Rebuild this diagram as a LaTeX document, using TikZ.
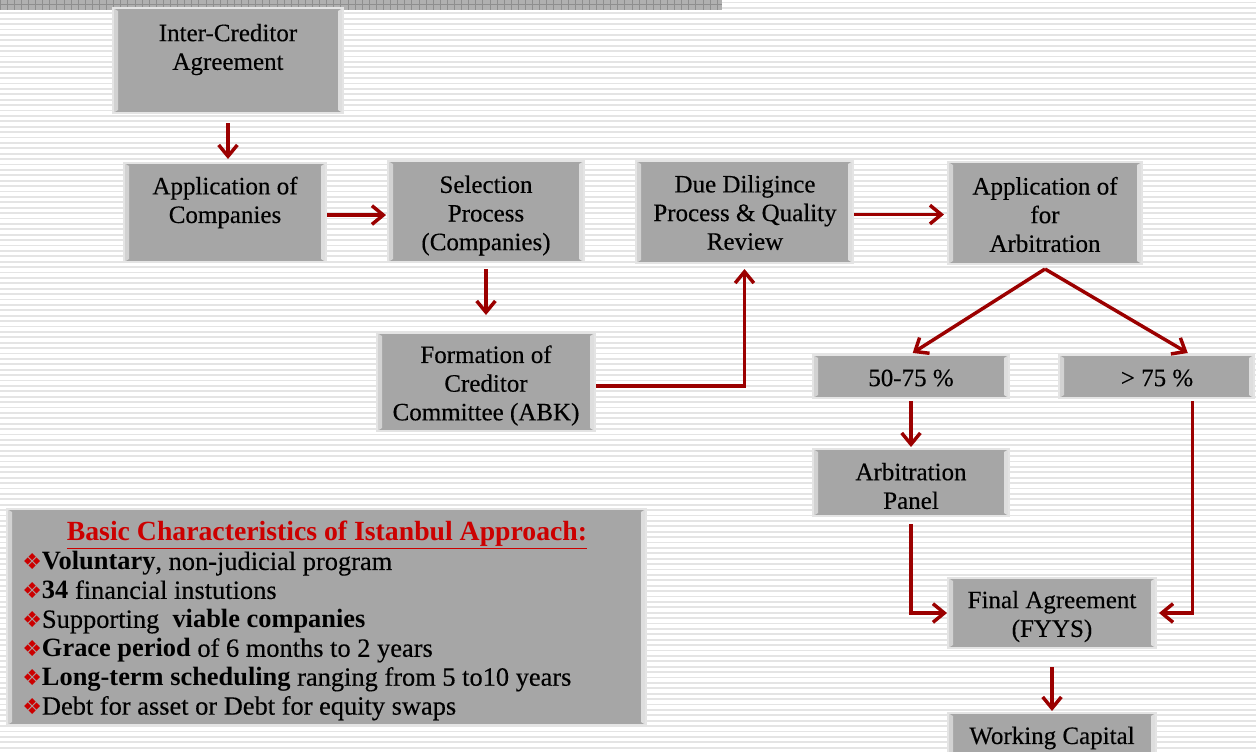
\documentclass[tikz,border=0pt]{standalone}
\usepackage{fontspec}
\setmainfont{Liberation Serif}[UprightFeatures={FakeBold=0.3}]
\newfontfamily\symfont{DejaVu Sans}
\usetikzlibrary{arrows.meta}

\definecolor{boxgray}{HTML}{A6A6A6}
\definecolor{boxedge}{HTML}{E4E4E4}
\definecolor{bevelleft}{HTML}{D2D2D2}
\definecolor{bevelright}{HTML}{DEDEDE}
\definecolor{flowred}{HTML}{9B0000}
\definecolor{titlered}{HTML}{CC0000}
\definecolor{stripe}{HTML}{E4E4E4}
\definecolor{bargray}{HTML}{B0B0B0}
\definecolor{bargrid}{HTML}{8E8E8E}

% red diamond bullet for the list of characteristics
\newcommand\bul{{\color{titlered}\symfont\fontsize{16.5pt}{16.5pt}\selectfont ❖}}

% bevelled grey box: name, left, top, right, bottom (pixel units, y downwards)
\newcommand\flowbox[5]{%
  \node[flowbox, minimum width={(#4-#2)*0.75pt}, minimum height={(#5-#3)*0.75pt}]
    (#1) at ({(#2+#4)/2},{(#3+#5)/2}) {};}

\tikzset{
  flowbox/.style={fill=boxgray, draw=boxedge, line width=1.5pt, inner sep=0pt,
    path picture={
      \fill[bevelleft] (path picture bounding box.north west) -- ++(5,3)
        -- ([shift={(5,-3)}]path picture bounding box.south west)
        -- (path picture bounding box.south west) -- cycle;
      \fill[bevelright] (path picture bounding box.north east) -- ++(-5,3)
        -- ([shift={(-5,-3)}]path picture bounding box.south east)
        -- (path picture bounding box.south east) -- cycle;
    }},
  boxtext/.style={align=center, inner sep=0pt,
    font=\fontsize{18.75pt}{21.5pt}\selectfont},
  flow/.style={draw=flowred, line width=2.6pt, line join=miter,
    -{Straight Barb[length=8.5pt,width=14pt]}},
}

\begin{document}
\begin{tikzpicture}[x=0.75pt,y=-0.75pt]
\useasboundingbox (0,0) rectangle (1256,751);
\clip (0,0) rectangle (1256,751);

% striped background
\fill[white] (0,0) rectangle (1256,751);
\foreach \i in {0,...,139}
  \draw[stripe, line width=1.4pt] (0,{2.5+5.4*\i}) -- (1256,{2.5+5.4*\i});

% header bar with grid
\fill[bargray] (0,0) rectangle (722,10);
\foreach \x in {0,7.1,...,722}
  \draw[bargrid, line width=0.5pt] (\x,0) -- (\x,10);
\draw[bargrid, line width=0.5pt] (0,4) -- (722,4);

% boxes
\flowbox{ica}{113}{8}{343}{113}
\flowbox{app}{124}{163}{326}{262}
\flowbox{sel}{388}{161}{584}{262}
\flowbox{due}{636}{161}{853}{263}
\flowbox{arb}{948}{162}{1142}{264}
\flowbox{form}{377}{333}{595}{431}
\flowbox{pmid}{813}{355}{1009}{398}
\flowbox{phigh}{1059}{355}{1254}{398}
\flowbox{panel}{813}{449}{1009}{516}
\flowbox{final}{948}{578}{1156}{648}
\flowbox{work}{948}{713}{1156}{765}
\flowbox{basic}{7}{509}{646}{725}

% box labels
\node[boxtext] (ica-t)   at (228,49.5)  {Inter-Creditor\\Agreement};
\node[boxtext] (app-t)   at (225,202.5) {Application of\\Companies};
\node[boxtext] (sel-t)   at (486,215.5) {Selection\\Process\\(Companies)};
\node[boxtext] (due-t)   at (745,212.5) {Due Diligince\\Process \& Quality\\Review};
\node[boxtext] (arb-t)   at (1045,214.5){Application of\\for\\Arbitration};
\node[boxtext] (form-t)  at (486,385.5) {Formation of\\Creditor\\Committee (ABK)};
\node[boxtext] (pmid-t)  at (911,378)   {50-75 \%};
\node[boxtext] (phigh-t) at (1157,378)  {> 75 \%};
\node[boxtext] (panel-t) at (911,486)   {Arbitration\\Panel};
\node[boxtext] (final-t) at (1052,616.5){Final Agreement\\(FYYS)};
\node[boxtext] (work-t)  at (1052,738)  {Working Capital};

% characteristics panel
\node[boxtext, text=titlered, font=\fontsize{20.8pt}{22pt}\selectfont\bfseries]
  (basic-title) at (327,535) {\underline{Basic Characteristics of Istanbul Approach:}};
\node[align=left, anchor=west, inner sep=0pt,
      font=\fontsize{19.8pt}{21.7pt}\selectfont] (basic-list) at (22,636)
  {\bul\textbf{Voluntary}, non-judicial program\\
   \bul\textbf{34} financial instutions\\
   \bul Supporting~ \textbf{viable companies}\\
   \bul\textbf{Grace period} of 6 months to 2 years\\
   \bul\textbf{Long-term scheduling} ranging from 5 to10 years\\
   \bul Debt for asset or Debt for equity swaps};

% connectors
\draw[flow, shorten <=6.75pt, shorten >=2.25pt] (ica.south) -- (ica.south |- app.north);
\draw[flow, shorten >=0.75pt] ([yshift=-1.9pt]app.east) -- ([yshift=-1.9pt]app.east -| sel.west);
\draw[flow, shorten >=2.25pt] ([yshift=-1.9pt]due.east) -- ([yshift=-1.9pt]due.east -| arb.west);
\draw[flow, shorten <=4.5pt, shorten >=12.75pt] (sel.south) -- (sel.south |- form.north);
\draw[flow, shorten >=3.75pt] ([yshift=-3pt]form.east) -| (due.south);
\coordinate (fork) at ([yshift=-3pt]arb.south);
\draw[flow, shorten >=1.5pt] (fork) -- (pmid.north);
\draw[flow, shorten >=1.5pt] (fork) -- ([xshift=24.75pt]phigh.north);
\draw[flow, shorten <=1.5pt, shorten >=0.75pt] (pmid.south) -- (pmid.south |- panel.north);
\draw[flow, shorten <=5.25pt] (panel.south) |- (final.west);
\draw[flow, shorten <=1.5pt, shorten >=1.5pt] ([xshift=27pt]phigh.south) |- (final.east);
\draw[flow, shorten <=13.5pt, shorten >=0.75pt] (final.south) -- (final.south |- work.north);
\end{tikzpicture}
\end{document}
